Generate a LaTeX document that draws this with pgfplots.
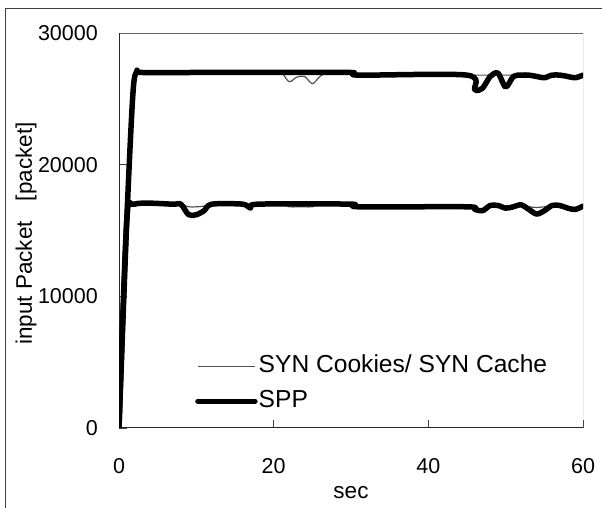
\documentclass[border=0pt]{standalone}
\usepackage{pgfplots}
\pgfplotsset{compat=1.18}
\usepackage{fontspec}
\setmainfont{Liberation Sans}
\definecolor{thinc}{HTML}{505050}
\definecolor{frame}{HTML}{404040}
\pgfplotstableread{
t v
0 0
1 15700
1.8 25400
2.3 27100
3 27000
10 27000
20 27000
21 27000
22 26300
23 26650
24 26700
25 26150
26 26700
27 27000
30 27000
31 26800
45 26800
46 26800
47 26800
48 26800
49 26800
50 26800
51 26800
52 26800
53 26800
54 26700
55 26600
56 26800
57 26800
58 26700
59 26600
60 26800
}\synup
\pgfplotstableread{
t v
0 0
1 15700
1.8 25400
2.3 27100
3 27000
10 27000
20 27000
30 27000
31 26800
45 26800
46 25700
47 25800
48 26700
49 26950
50 25900
51 26700
52 26800
53 26800
54 26700
55 26600
56 26800
57 26800
58 26700
59 26600
60 26800
}\sppup
\pgfplotstableread{
t v
0 0
1 15700
2 17000
7 17000
8 17000
9 16800
10 16800
11 16850
12 17000
16 17000
17 16700
18 17000
21 17000
22 16800
23 16800
24 16800
25 16800
26 17000
30 17000
31 16800
45 16800
46 16600
47 16500
48 16900
49 16900
50 16700
51 16800
52 16950
53 16800
54 16750
55 16800
56 16900
57 16900
58 16700
59 16600
60 16850
}\synlow
\pgfplotstableread{
t v
0 0
1 15700
2 17000
7 17000
8 17000
9 16200
10 16200
11 16500
12 17000
16 17000
17 16700
18 17000
30 17000
31 16800
45 16800
46 16600
47 16500
48 16900
49 16900
50 16700
51 16800
52 16950
53 16600
54 16250
55 16500
56 16900
57 16900
58 16700
59 16600
60 16850
}\spplow
\begin{document}
\begin{tikzpicture}
\useasboundingbox (0,0) rectangle (602pt,508pt);
\draw[frame, line width=1pt] (5pt,0pt) -- (5pt,499pt) -- (602pt,499pt);
\begin{axis}[
  at={(119pt,80pt)}, anchor=south west,
  scale only axis, width=464pt, height=395pt,
  xmin=0, xmax=60, ymin=0, ymax=30000,
  xtick={0,20,40,60}, ytick={0,10000,20000,30000},
  xtick pos=left, ytick pos=left,
  tick align=inside, major tick length=8pt,
  tick style={black!75, line width=0.8pt},
  scaled y ticks=false,
  /pgf/number format/assume math mode=true,
  /pgf/number format/1000 sep={},
  axis line style={draw=none},
  ticklabel style={font=\fontsize{21.5}{25}\selectfont, inner sep=0pt},
  yticklabel style={anchor=east, xshift=-21pt},
  xticklabel style={anchor=north, yshift=-30pt},
  label style={font=\fontsize{22.5}{26}\selectfont},
  xlabel={sec},
  xlabel style={at={(axis description cs:0.5,-0.1646)}, anchor=center},
  ylabel={input Packet\hspace{20pt}[packet]},
  ylabel style={at={(axis description cs:-0.2004,0.4924)}, anchor=center},
  legend style={draw=none, fill=none, at={(rel axis cs:0.1638,0.186)}, anchor=north west,
    font=\fontsize{24.6}{29}\selectfont, inner sep=0pt, row sep=11.8pt, column sep=1pt,
    nodes={text height=18.2pt, text depth=5pt, inner sep=0pt}},
  legend cell align=left,
  legend image code/.code={\draw[#1] (0pt,0pt) -- (57pt,0pt);},
]
\draw[black!60, line width=0.9pt] (rel axis cs:0,1) -- (rel axis cs:1,1) -- (rel axis cs:1,0);
\draw[black!85, line width=1.2pt] (rel axis cs:0,1) -- (rel axis cs:0,0) -- (rel axis cs:1,0);
\addplot[thinc, line width=1.2pt, smooth, tension=0.5] table[x=t,y=v] {\synup};
\addlegendentry{SYN Cookies/ SYN Cache}
\addplot[black, line width=5.5pt, smooth, tension=0.5, line join=round, line cap=round] table[x=t,y=v] {\sppup};
\addlegendentry{SPP}
\addplot[thinc, line width=1.2pt, smooth, tension=0.5, forget plot] table[x=t,y=v] {\synlow};
\addplot[black, line width=5.5pt, smooth, tension=0.5, line join=round, line cap=round, forget plot] table[x=t,y=v] {\spplow};
\end{axis}
\end{tikzpicture}
\end{document}
